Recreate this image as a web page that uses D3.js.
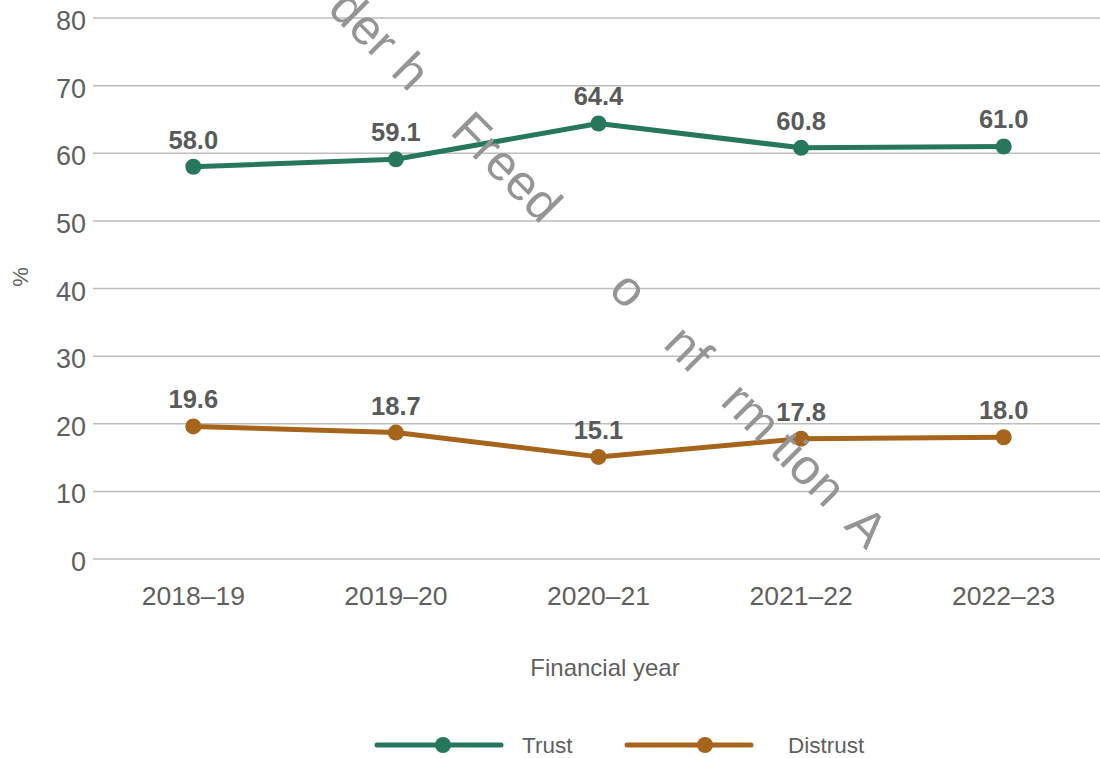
<!DOCTYPE html>
<html>
<head>
<meta charset="utf-8">
<script src="https://cdn.jsdelivr.net/npm/d3@7"></script>
<style>
  html, body { margin: 0; padding: 0; background: #fff; }
  svg { display: block; font-family: "Liberation Sans", Arial, sans-serif; }
</style>
</head>
<body>
<svg id="chart" width="1100" height="758"></svg>
<script>
// ── Data ──
const years    = ["2018–19", "2019–20", "2020–21", "2021–22", "2022–23"];
const trust    = [58.0, 59.1, 64.4, 60.8, 61.0];
const distrust = [19.6, 18.7, 15.1, 17.8, 18.0];
const yTicks   = [0, 10, 20, 30, 40, 50, 60, 70, 80];
const seriesNames = ["Trust", "Distrust"];
const seriesColors = ["#27775d", "#a6641c"];

// watermark fragments (text, distance along the diagonal)
const markText = ["der", "h", "Freed", "o", "nf", "rm", "tion", "A"];
const markPos  = [34, 101, 236, 409, 493, 582, 663, 745];

const W = 1100, H = 758;
const LEFT = 92, RIGHT = 1105;
const TOP = 18, BOTTOM = 559;

const svg = d3.select("#chart");

const x = d3.scalePoint().domain(years).range([LEFT, RIGHT]).padding(0.5);
const y = d3.scaleLinear().domain([0, 80]).range([BOTTOM, TOP]);

// ── Gridlines ──
svg.append("g")
  .selectAll("line")
  .data(yTicks)
  .join("line")
  .attr("x1", LEFT + 1)
  .attr("x2", W)
  .attr("y1", d => y(d))
  .attr("y2", d => y(d))
  .attr("stroke", "#bdbdbd")
  .attr("stroke-width", 1.5);

// ── Y tick labels ──
svg.append("g")
  .selectAll("text")
  .data(yTicks)
  .join("text")
  .attr("x", 86)
  .attr("y", d => y(d) + 12)
  .attr("text-anchor", "end")
  .attr("font-size", "27px")
  .attr("fill", "#5f5f5f")
  .text(d => d);

// ── X tick labels ──
svg.append("g")
  .selectAll("text")
  .data(years)
  .join("text")
  .attr("x", d => x(d))
  .attr("y", 605)
  .attr("text-anchor", "middle")
  .attr("font-size", "26.5px")
  .attr("fill", "#5f5f5f")
  .text(d => d);

// ── Axis titles ──
svg.append("text")
  .attr("x", 605)
  .attr("y", 676)
  .attr("text-anchor", "middle")
  .attr("font-size", "24px")
  .attr("fill", "#5f5f5f")
  .text("Financial year");

svg.append("text")
  .attr("transform", "translate(28,277) rotate(-90)")
  .attr("text-anchor", "middle")
  .attr("font-size", "22px")
  .attr("fill", "#5f5f5f")
  .text("%");

// ── Lines, markers, labels ──
const line = d3.line()
  .x((d, i) => x(years[i]))
  .y(d => y(d));

[trust, distrust].forEach((vals, s) => {
  const g = svg.append("g");
  g.append("path")
    .datum(vals)
    .attr("d", line)
    .attr("fill", "none")
    .attr("stroke", seriesColors[s])
    .attr("stroke-width", 5)
    .attr("stroke-linejoin", "round");

  g.selectAll("circle")
    .data(vals)
    .join("circle")
    .attr("cx", (d, i) => x(years[i]))
    .attr("cy", d => y(d))
    .attr("r", 8)
    .attr("fill", seriesColors[s]);

  g.selectAll("text")
    .data(vals)
    .join("text")
    .attr("x", (d, i) => x(years[i]))
    .attr("y", d => y(d) - 18)
    .attr("text-anchor", "middle")
    .attr("font-size", "25.5px")
    .attr("font-weight", "bold")
    .attr("fill", "#5a5a5a")
    .text(d => d.toFixed(1));
});

// ── Legend ──
const legX = [377, 627];
const legY = 745;
seriesNames.forEach((name, s) => {
  const g = svg.append("g").attr("transform", `translate(${legX[s]},${legY})`);
  g.append("line")
    .attr("x1", 0).attr("x2", 124)
    .attr("y1", 0).attr("y2", 0)
    .attr("stroke", seriesColors[s])
    .attr("stroke-width", 5)
    .attr("stroke-linecap", "round");
  g.append("circle")
    .attr("cx", s ? 78 : 66)
    .attr("cy", 0)
    .attr("r", 8)
    .attr("fill", seriesColors[s]);
  g.append("text")
    .attr("x", s ? 161 : 145)
    .attr("y", 8)
    .attr("font-size", "22.5px")
    .attr("fill", "#5f5f5f")
    .text(name);
});

// ── Watermark ──
const mark = svg.append("g")
  .attr("transform", "translate(340,0) rotate(45)");
mark.selectAll("text")
  .data(markText)
  .join("text")
  .attr("x", (d, i) => markPos[i])
  .attr("y", 17)
  .attr("text-anchor", "middle")
  .attr("font-size", "50px")
  .attr("fill", "#959595")
  .text(d => d);
</script>
</body>
</html>
